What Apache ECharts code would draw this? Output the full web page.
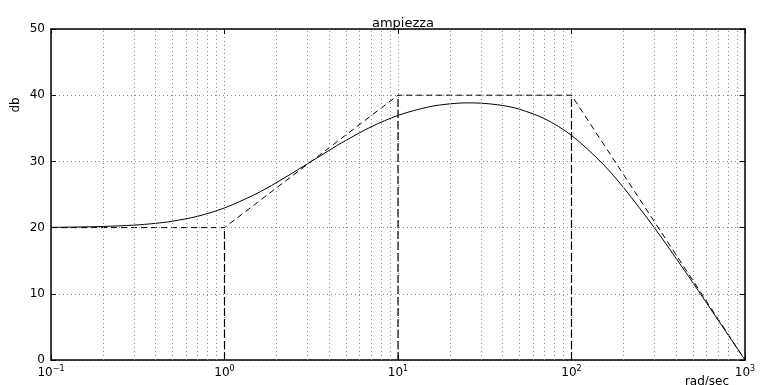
<!DOCTYPE html>
<html>
<head>
<meta charset="utf-8">
<script src="https://cdn.jsdelivr.net/npm/echarts@6/dist/echarts.min.js"></script>
<style>
html,body{margin:0;padding:0;background:#fff;}
#chart{width:763px;height:385px;}
</style>
</head>
<body>
<div id="chart"></div>
<script>
// Frequencies (rad/sec) and magnitude (dB) of the solid curve
var freq = [0.1, 0.15, 0.2, 0.3, 0.4, 0.5, 0.7, 1, 1.5, 2, 3, 4, 5, 7, 10, 15, 20, 25, 30, 40, 50, 70, 100, 150, 200, 300, 400, 500, 700, 1000];
var magDb = [20.04, 20.10, 20.17, 20.37, 20.64, 20.96, 21.71, 22.97, 25.02, 26.82, 29.62, 31.65, 33.16, 35.22, 36.95, 38.23, 38.70, 38.84, 38.80, 38.45, 37.89, 36.45, 33.94, 29.74, 26.01, 20.00, 15.39, 11.70, 6.02, 0.0];
// Asymptotic (dashed) approximation
var asymFreq = [0.1, 1, 10, 100, 1000];
var asymDb = [20, 20, 40, 40, 0];
// Corner frequencies with vertical dashed drop lines
var cornerFreq = [1, 10, 100];
var cornerDb = [20, 40, 40];
// Minor grid positions (log decades)
var minorGrid = [0.2,0.3,0.4,0.5,0.6,0.7,0.8,0.9,2,3,4,5,6,7,8,9,20,30,40,50,60,70,80,90,200,300,400,500,600,700,800,900];
var yTicks = [0, 10, 20, 30, 40, 50];

var FONT = 'DejaVu Sans';
var chart = echarts.init(document.getElementById('chart'), null, {renderer: 'canvas'});

var series = [];
series.push({
  type: 'line', xAxisIndex: 0, yAxisIndex: 0, silent: true,
  data: [], symbol: 'none',
  markLine: {
    silent: true, symbol: ['none','none'], animation: false,
    label: {show: false},
    lineStyle: {color: '#888', type: [1, 3], width: 1},
    data: minorGrid.map(function (v) { return {xAxis: v}; })
  }
});
series.push({
  type: 'line', xAxisIndex: 0, yAxisIndex: 0,
  data: freq.map(function (f, i) { return [f, magDb[i]]; }),
  symbol: 'none', smooth: 0.3, animation: false,
  lineStyle: {color: '#000', width: 1}
});
series.push({
  type: 'line', xAxisIndex: 0, yAxisIndex: 0,
  data: asymFreq.map(function (f, i) { return [f, asymDb[i]]; }),
  symbol: 'none', animation: false,
  lineStyle: {color: '#000', width: 1, type: [6, 4]}
});
cornerFreq.forEach(function (f, i) {
  series.push({
    type: 'line', xAxisIndex: 0, yAxisIndex: 0,
    data: [[f, 0], [f, cornerDb[i]]],
    symbol: 'none', animation: false,
    lineStyle: {color: '#000', width: 1.2, type: [8, 3]}
  });
});

var axisLineStyle = {show: true, onZero: false, lineStyle: {color: '#000', width: 1.5}};

chart.setOption({
  animation: false,
  backgroundColor: '#fff',
  title: {
    text: 'ampiezza', left: 398, top: 12, textAlign: 'center',
    textStyle: {fontFamily: FONT, fontSize: 13, fontWeight: 'normal', color: '#000'}
  },
  grid: {left: 51, right: 18, top: 29, bottom: 25, containLabel: false},
  xAxis: [{
    type: 'log', logBase: 10, min: 0.1, max: 1000,
    axisLine: axisLineStyle,
    axisTick: {show: true, inside: true, length: 5, lineStyle: {color: '#000'}},
    splitLine: {show: true, lineStyle: {color: '#888', type: [1, 3], width: 1}},
    axisLabel: {
      margin: 5,
      formatter: function (v) {
        var e = Math.round(Math.log(v) / Math.LN10);
        return '{b|10}{s|' + (e < 0 ? '\u2212' + (-e) : e) + '}';
      },
      rich: {
        b: {fontFamily: FONT, fontSize: 12, color: '#000', verticalAlign: 'bottom'},
        s: {fontFamily: FONT, fontSize: 8, color: '#000', verticalAlign: 'top', padding: [0, 0, 6, 0]}
      }
    }
  }, {
    type: 'log', logBase: 10, min: 0.1, max: 1000, position: 'top',
    axisLine: axisLineStyle,
    axisTick: {show: true, inside: true, length: 5, lineStyle: {color: '#000'}},
    axisLabel: {show: false}, splitLine: {show: false}
  }],
  yAxis: [{
    type: 'value', min: 0, max: 50, interval: 10,
    axisLine: axisLineStyle,
    axisTick: {show: true, inside: true, length: 5, lineStyle: {color: '#000'}},
    splitLine: {show: true, lineStyle: {color: '#888', type: [1, 3], width: 1}},
    axisLabel: {margin: 6, fontFamily: FONT, fontSize: 12, color: '#000'}
  }, {
    type: 'value', min: 0, max: 50, interval: 10, position: 'right',
    axisLine: axisLineStyle,
    axisTick: {show: true, inside: true, length: 5, lineStyle: {color: '#000'}},
    axisLabel: {show: false}, splitLine: {show: false}
  }],
  graphic: [{
    type: 'text', x: 16, y: 105, rotation: Math.PI / 2,
    style: {text: 'db', fontFamily: FONT, fontSize: 12, fill: '#000', textAlign: 'center', textVerticalAlign: 'middle'}
  }, {
    type: 'text', x: 707, y: 376,
    style: {text: 'rad/sec', fontFamily: FONT, fontSize: 12, fill: '#000', textAlign: 'center', textVerticalAlign: 'top'}
  }],
  series: series
});
</script>
</body>
</html>
